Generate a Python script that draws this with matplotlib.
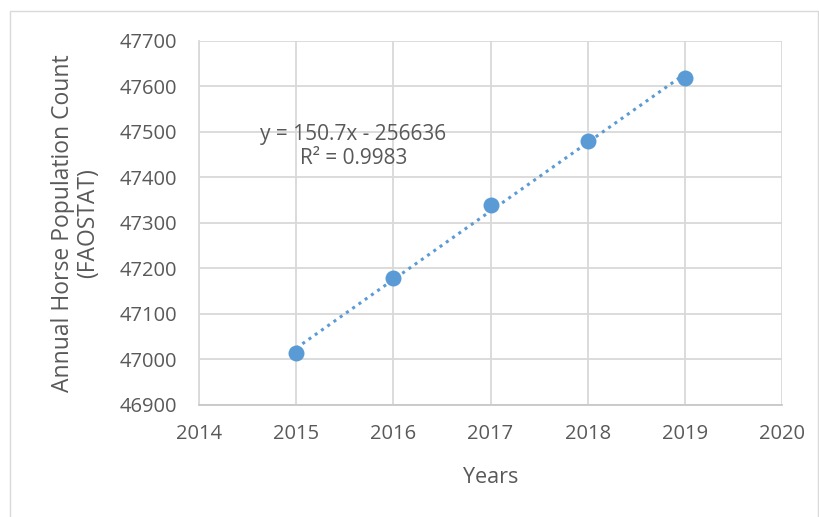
import matplotlib
matplotlib.use("Agg")
import matplotlib.pyplot as plt
from matplotlib.patches import Rectangle
import numpy as np

years = [2015, 2016, 2017, 2018, 2019]
horses = [47015, 47178, 47340, 47479, 47617]
x_ticks = [2014, 2015, 2016, 2017, 2018, 2019, 2020]
y_ticks = [46900, 47000, 47100, 47200, 47300, 47400, 47500, 47600, 47700]
equation_text = "y = 150.7x - 256636\nR² = 0.9983"

plt.rcParams['font.family'] = ['Open Sans', 'DejaVu Sans']
TXT = '#595959'
GRID = '#D9D9D9'
BLUE = '#5B9BD5'

W, H = 820, 517
fig = plt.figure(figsize=(W / 100, H / 100), dpi=100)
fig.patches.append(Rectangle((10 / W, -0.05), 808 / W, 1 - 11 / H + 0.05,
                             transform=fig.transFigure, fill=False,
                             edgecolor=GRID, linewidth=1.0))

ax = fig.add_axes([199 / W, 1 - 405 / H, (782 - 199) / W, (405 - 40.7) / H])
ax.set_xlim(2014, 2020)
ax.set_ylim(46900, 47700)
ax.set_xticks(x_ticks)
ax.set_yticks(y_ticks)
ax.set_xticklabels([str(v) for v in x_ticks])
ax.set_yticklabels([str(v) for v in y_ticks])
ax.grid(True, color=GRID, linewidth=1.3)
ax.set_axisbelow(True)
for s in ['top', 'right']:
    ax.spines[s].set_visible(False)
ax.spines['left'].set_color(GRID)
ax.spines['left'].set_linewidth(1.3)
ax.spines['bottom'].set_color('#C8C8C8')
ax.spines['bottom'].set_linewidth(1.3)
ax.tick_params(length=0, labelsize=14.5, labelcolor=TXT)
ax.tick_params(axis='y', pad=16)
ax.tick_params(axis='x', pad=14)

xs = np.array(years, dtype=float)
ys = np.array(horses, dtype=float)
m, b = np.polyfit(xs, ys, 1)
ax.plot(xs, m * xs + b, color=BLUE, linewidth=2.2, linestyle=(0, (1, 1.5)))
ax.plot(xs, ys, 'o', color=BLUE, markersize=11.5, markeredgewidth=0, zorder=3)

ax.text(2015.59, 47468, equation_text, ha='center', va='center',
        fontsize=15, color=TXT, linespacing=1.2)

ax.set_xlabel('Years', fontsize=15.5, color=TXT, labelpad=16)
ax.set_ylabel('Annual Horse Population Count\n(FAOSTAT)', fontsize=16.5,
              color=TXT, labelpad=14, linespacing=1.05)

fig.savefig('out.png', dpi=100)
